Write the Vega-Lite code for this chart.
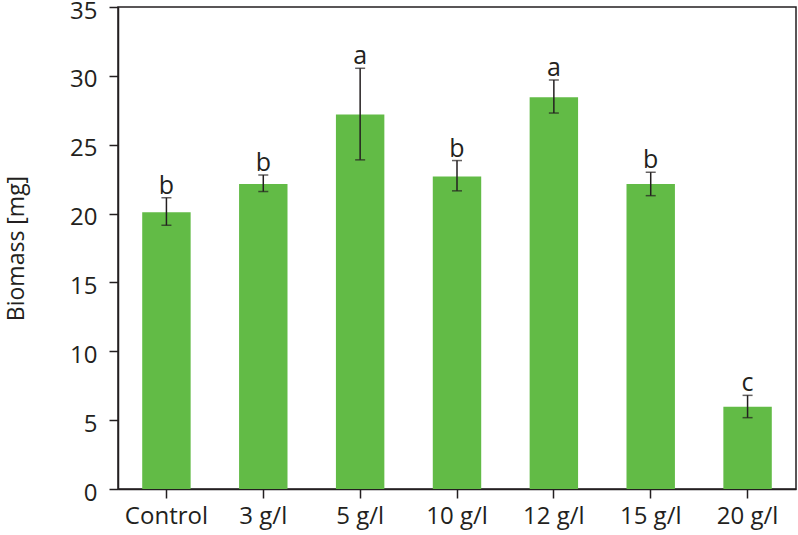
{
  "$schema": "https://vega.github.io/schema/vega-lite/v6.json",
  "width": 678,
  "height": 482,
  "autosize": {"type": "none"},
  "padding": {"left": 118, "top": 7, "right": 2, "bottom": 46},
  "background": "white",
  "config": {
    "font": "Open Sans",
    "view": {"stroke": "#231f20", "strokeWidth": 1.5},
    "axis": {
      "labelFont": "Open Sans",
      "titleFont": "Open Sans",
      "labelFontSize": 24,
      "titleFontSize": 23,
      "labelColor": "#231f20",
      "titleColor": "#231f20",
      "titleFontWeight": "normal",
      "domainColor": "#231f20",
      "domainWidth": 1.5,
      "tickColor": "#231f20",
      "tickWidth": 1.5,
      "tickSize": 9,
      "grid": false
    }
  },
  "data": {
    "values": [
      {"treatment": "Control", "mean": 20.1, "lower": 19.15, "upper": 21.15, "letter": "b"},
      {"treatment": "3 g/l", "mean": 22.15, "lower": 21.6, "upper": 22.8, "letter": "b"},
      {"treatment": "5 g/l", "mean": 27.2, "lower": 23.9, "upper": 30.55, "letter": "a"},
      {"treatment": "10 g/l", "mean": 22.7, "lower": 21.65, "upper": 23.85, "letter": "b"},
      {"treatment": "12 g/l", "mean": 28.45, "lower": 27.3, "upper": 29.7, "letter": "a"},
      {"treatment": "15 g/l", "mean": 22.15, "lower": 21.3, "upper": 23.0, "letter": "b"},
      {"treatment": "20 g/l", "mean": 5.98, "lower": 5.18, "upper": 6.8, "letter": "c"}
    ]
  },
  "encoding": {
    "x": {
      "field": "treatment",
      "type": "nominal",
      "sort": null,
      "scale": {"paddingInner": 0.5, "paddingOuter": 0.25},
      "axis": {"title": null, "labelAngle": 0, "labelPadding": 6}
    }
  },
  "layer": [
    {
      "mark": {"type": "bar", "color": "#62bb46"},
      "encoding": {
        "y": {
          "field": "mean",
          "type": "quantitative",
          "scale": {"domain": [0, 35], "nice": false},
          "axis": {"title": "Biomass [mg]", "values": [0, 5, 10, 15, 20, 25, 30, 35], "labelPadding": 12, "labelOffset": 4, "titleX": -90}
        }
      }
    },
    {
      "mark": {"type": "rule", "color": "#231f20", "strokeWidth": 1.5},
      "encoding": {
        "y": {"field": "lower", "type": "quantitative"},
        "y2": {"field": "upper"}
      }
    },
    {
      "mark": {"type": "tick", "color": "#231f20", "thickness": 1.5, "size": 10, "orient": "horizontal"},
      "encoding": {"y": {"field": "lower", "type": "quantitative"}}
    },
    {
      "mark": {"type": "tick", "color": "#231f20", "thickness": 1.5, "size": 10, "orient": "horizontal"},
      "encoding": {"y": {"field": "upper", "type": "quantitative"}}
    },
    {
      "mark": {"type": "text", "fontSize": 25, "color": "#231f20", "baseline": "alphabetic", "dy": -4, "font": "Open Sans"},
      "encoding": {
        "y": {"field": "upper", "type": "quantitative"},
        "text": {"field": "letter"}
      }
    }
  ]
}
